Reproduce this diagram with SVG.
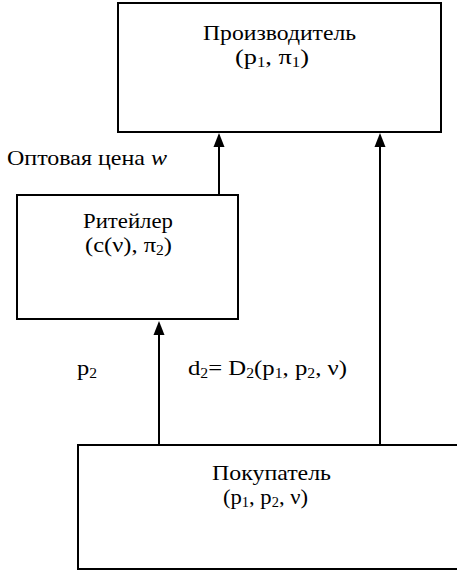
<svg xmlns="http://www.w3.org/2000/svg" width="457" height="570" viewBox="0 0 457 570">
<style>
.box{fill:#fff;stroke:#000;stroke-width:2}
.ln{stroke:#000;stroke-width:2;fill:none}
.ah{fill:#000}
text{font-family:'Liberation Serif','Times New Roman',Times,'DejaVu Serif',serif;font-size:22px;fill:#000}
.s{font-size:14px}
</style>
<g id="connectors">
<path class="ln" d="M219,194 V146"/>
<path class="ah" d="M213.5,147 L219,133 L224.5,147 Z"/>
<path class="ln" d="M380,445 V146"/>
<path class="ah" d="M374.5,147 L380,133 L385.5,147 Z"/>
<path class="ln" d="M159,445 V334"/>
<path class="ah" d="M153.5,335 L159,321 L164.5,335 Z"/>
</g>
<g id="producer">
<rect class="box" x="118" y="3" width="323" height="129"/>
<text x="203" y="40" textLength="153" lengthAdjust="spacingAndGlyphs">Производитель</text>
<text x="235" y="64" textLength="74" lengthAdjust="spacingAndGlyphs">(p<tspan class="s" dy="3">1</tspan><tspan dy="-3">, π</tspan><tspan class="s" dy="3">1</tspan><tspan dy="-3">)</tspan></text>
</g>
<g id="retailer">
<rect class="box" x="17" y="195" width="221" height="124"/>
<text x="83" y="228" textLength="90" lengthAdjust="spacingAndGlyphs">Ритейлер</text>
<text x="85" y="252" textLength="87" lengthAdjust="spacingAndGlyphs">(c(ν), π<tspan class="s" dy="3">2</tspan><tspan dy="-3">)</tspan></text>
</g>
<g id="buyer">
<rect class="box" x="78" y="445" width="390" height="124"/>
<text x="212" y="480" textLength="119" lengthAdjust="spacingAndGlyphs">Покупатель</text>
<text x="223" y="504" textLength="85" lengthAdjust="spacingAndGlyphs">(p<tspan class="s" dy="3">1</tspan><tspan dy="-3">, p</tspan><tspan class="s" dy="3">2</tspan><tspan dy="-3">, ν)</tspan></text>
</g>
<g id="labels">
<text x="7" y="165" textLength="160" lengthAdjust="spacingAndGlyphs">Оптовая цена <tspan font-style="italic">w</tspan></text>
<text x="77" y="375" textLength="20" lengthAdjust="spacingAndGlyphs">p<tspan class="s" dy="3">2</tspan></text>
<text x="188" y="375" textLength="159" lengthAdjust="spacingAndGlyphs">d<tspan class="s" dy="3">2</tspan><tspan dy="-3">= D</tspan><tspan class="s" dy="3">2</tspan><tspan dy="-3">(p</tspan><tspan class="s" dy="3">1</tspan><tspan dy="-3">, p</tspan><tspan class="s" dy="3">2</tspan><tspan dy="-3">, ν)</tspan></text>
</g>
</svg>
